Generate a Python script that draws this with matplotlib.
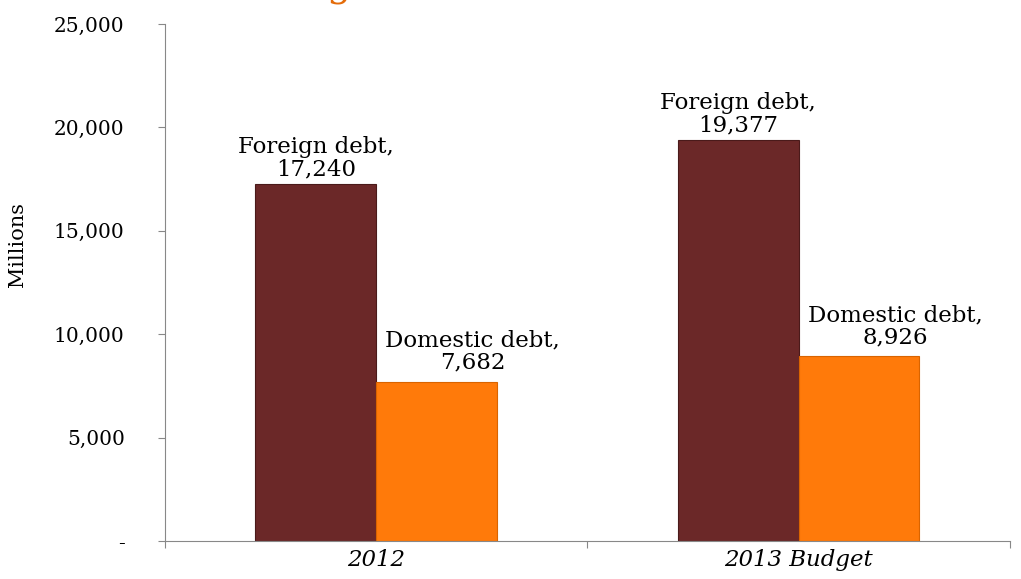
import numpy as np
import matplotlib.pyplot as plt
from matplotlib.ticker import FuncFormatter

categories = ['2012', '2013 Budget']
foreign = [17240, 19377]
domestic = [7682, 8926]
yticks = [0, 5000, 10000, 15000, 20000, 25000]

plt.rcParams['font.family'] = ['DejaVu Serif']

fig = plt.figure(figsize=(10.21, 5.79), dpi=100)
ax = fig.add_axes([0.1616, 0.0656, 0.8274, 0.893])

x = np.arange(len(categories))
w = 0.286
fcol = '#6B2828'
dcol = '#FF7A0A'
ax.bar(x - w/2, foreign, w, color=fcol, edgecolor='#4a1a1a', linewidth=0.8)
ax.bar(x + w/2, domestic, w, color=dcol, edgecolor='#d96400', linewidth=0.8)

fs = 16.5
for i in range(len(categories)):
    ax.text(x[i] - w/2, foreign[i] + 200, 'Foreign debt,\n{:,}'.format(foreign[i]),
            ha='center', va='bottom', fontsize=fs, linespacing=1.0)
    ax.text(x[i] + w/2 + 0.085, domestic[i] + 400, 'Domestic debt,\n{:,}'.format(domestic[i]),
            ha='center', va='bottom', fontsize=fs, linespacing=1.0)

ax.set_xlim(-0.5, 1.5)
ax.set_ylim(0, 25000)
ax.set_yticks(yticks)
ax.yaxis.set_major_formatter(FuncFormatter(lambda v, p: '-' if v == 0 else '{:,.0f}'.format(v)))
ax.set_xticks([-0.5, 0.5, 1.5])
ax.set_xticklabels([])
ax.set_xticks(x, minor=True)
ax.set_xticklabels(categories, minor=True, fontstyle='italic', fontsize=fs)
ax.tick_params(axis='x', which='minor', length=0, pad=6)
ax.tick_params(axis='x', which='major', length=5, color='#888888')
ax.tick_params(axis='y', length=5, color='#888888', labelsize=14.5, pad=24)
ax.set_ylabel('Millions', fontsize=15)
ax.yaxis.set_label_coords(-0.163, 0.573)

for s in ['top', 'right']:
    ax.spines[s].set_visible(False)
for s in ['left', 'bottom']:
    ax.spines[s].set_color('#888888')

# clipped title remnant at top
fig.text(0.319, 1.006, 'g', color='#E46C0A', fontsize=28, va='baseline')

fig.savefig('out.png', dpi=100)
